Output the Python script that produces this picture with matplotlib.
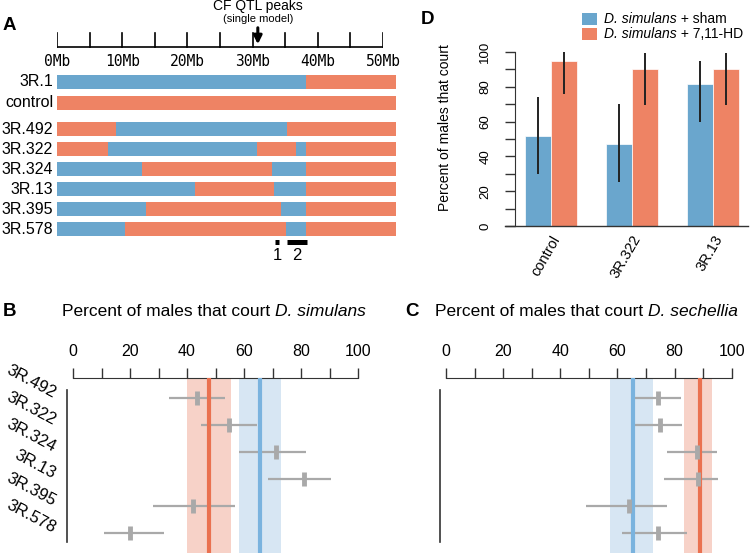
import matplotlib

matplotlib.use("Agg")
import matplotlib.pyplot as plt
import numpy as np
from matplotlib.patches import Rectangle

plt.rcParams["font.family"] = ["Liberation Sans", "DejaVu Sans"]

BLUE = "#6aa6cd"
RED = "#ee8364"
GREY = "#a9a9a9"
AXC = "#333333"

# ---- panel A: introgression lines on chromosome 3R (Mb) ----
lines_a = ["3R.1", "control", "3R.492", "3R.322", "3R.324", "3R.13", "3R.395", "3R.578"]
breaks_a = [
    [38.2],
    [],
    [9.0, 35.3],
    [7.8, 30.6, 36.6, 38.2],
    [13.1, 33.0, 38.2],
    [21.1, 33.3, 38.2],
    [13.7, 34.3, 38.2],
    [10.4, 35.1, 38.2],
]
starts_blue = [True, False, False, False, True, True, True, True]
chrom_end = 52.0
qtl_peak = 30.8
qtl_names = ["1", "2"]
qtl_regions = [(33.4, 34.1), (35.3, 38.3)]

# ---- panel B / C: percent of males that court ----
rows_bc = ["3R.492", "3R.322", "3R.324", "3R.13", "3R.395", "3R.578"]
b_mean = [43.4, 54.9, 71.2, 81.1, 42.0, 20.0]
b_lo = [33.8, 44.9, 58.4, 68.3, 28.0, 10.9]
b_hi = [53.3, 64.4, 81.8, 90.4, 57.0, 31.9]
b_red = (47.7, 40.1, 55.5)
b_blue = (65.7, 58.2, 73.0)

c_mean = [74.3, 74.9, 88.0, 88.1, 64.2, 74.3]
c_lo = [65.8, 65.8, 77.2, 76.4, 49.0, 61.7]
c_hi = [82.3, 82.7, 94.7, 95.1, 77.2, 84.2]
c_red = (88.9, 83.3, 93.0)
c_blue = (65.3, 57.4, 72.3)

# ---- panel D ----
groups_d = ["control", "3R.322", "3R.13"]
sham = [52.0, 47.3, 81.6]
sham_lo = [29.7, 25.5, 59.6]
sham_hi = [74.3, 70.3, 95.0]
hd = [95.0, 90.2, 90.2]
hd_lo = [75.7, 69.5, 69.5]
hd_hi = [100.0, 99.2, 99.2]

W, H = 750, 553
fig = plt.figure(figsize=(W / 100, H / 100), dpi=100)
renderer = fig.canvas.get_renderer()


def box(x0, y0, x1, y1):
    return [x0 / W, 1 - y1 / H, (x1 - x0) / W, (y1 - y0) / H]


def ftext(x, y, s, **kw):
    return fig.text(x / W, 1 - y / H, s, **kw)


def rich(x, y, parts, **kw):
    # parts: list of (text, style); laid out left to right
    for s, style in parts:
        t = ftext(x, y, s, style=style, va="center", ha="left", **kw)
        x += t.get_window_extent(renderer).width


# panel A
axA = fig.add_axes(box(57, 0, 383, 262))
axA.set_xlim(0, 50)
axA.set_ylim(262, 0)
axA.axis("off")
axA.plot([0, 50], [47, 47], color="k", lw=1.2)
for m in np.arange(0, 51, 5):
    axA.plot([m, m], [33, 47], color="k", lw=1.2)
for m in range(0, 51, 10):
    axA.text(m, 62, f"{m}Mb", ha="center", va="center", fontsize=10.5, family="DejaVu Sans Mono")
axA.annotate("", xy=(qtl_peak, 47), xytext=(qtl_peak, 25),
             arrowprops=dict(arrowstyle="-|>", color="k", lw=2.2, mutation_scale=12))
axA.text(qtl_peak, 6, "CF QTL peaks", ha="center", va="center", fontsize=10)
axA.text(qtl_peak, 18.5, "(single model)", ha="center", va="center", fontsize=8)

row_y = np.array([82, 102.5] + [129 + 20 * k for k in range(6)])
for name, br, sb, y in zip(lines_a, breaks_a, starts_blue, row_y):
    edges = [0] + br + [chrom_end]
    blue = sb
    for e0, e1 in zip(edges[:-1], edges[1:]):
        axA.barh(y, e1 - e0, left=e0, height=14, color=BLUE if blue else RED,
                 linewidth=0, clip_on=False)
        blue = not blue
    axA.text(-0.6, y, name, ha="right", va="center", fontsize=11.5)
for nm, (a, b) in zip(qtl_names, qtl_regions):
    axA.plot([a, b], [241.5, 241.5], color="k", lw=3.6, solid_capstyle="butt", clip_on=False)
    axA.text((a + b) / 2, 256, nm, ha="center", va="center", fontsize=12)


# panels B and C
def court_panel(rect, mean, lo, hi, red, blue, vline_x, labels):
    ax = fig.add_axes(rect)
    ax.set_xlim(0, 100)
    ax.set_ylim(5.74, -0.74)
    for s in ["left", "right", "bottom"]:
        ax.spines[s].set_visible(False)
    ax.spines["top"].set_color(AXC)
    ax.xaxis.tick_top()
    ax.set_xticks(np.arange(0, 101, 10))
    ax.set_xticklabels([str(v) if v % 20 == 0 else "" for v in range(0, 101, 10)])
    ax.tick_params(axis="x", direction="out", length=7, width=1, color=AXC,
                   labelsize=11.5, pad=7)
    ax.set_yticks([])
    for (m, l, h), bc, lc in [(red, "#f7d2c8", "#ea7150"), (blue, "#d7e6f3", "#7ab3de")]:
        ax.axvspan(l, h, color=bc, lw=0, zorder=0)
        ax.axvline(m, color=lc, lw=3, zorder=3)
    y = np.arange(len(mean))
    ax.hlines(y, lo, hi, color=GREY, lw=1.6, zorder=2)
    ax.plot(mean, y, ls="none", marker="|", ms=10, mew=3.5, color=GREY, zorder=4)
    ax.plot([vline_x, vline_x], [-0.3, 5.33], color=AXC, lw=1.2, clip_on=False)
    if labels:
        for i, lab in enumerate(labels):
            ax.text(-6.5, i - 0.15, lab, ha="right", va="center", rotation=-28,
                    rotation_mode="anchor", fontsize=12, clip_on=False)
    return ax


court_panel(box(73, 378, 358, 553), b_mean, b_lo, b_hi, b_red, b_blue, -2.1, rows_bc)
court_panel(box(446, 378, 731.7, 553), c_mean, c_lo, c_hi, c_red, c_blue, -2.1, None)

rich(62, 312, [("Percent of males that court ", "normal"), ("D. simulans", "italic")], fontsize=12.5)
rich(435, 312, [("Percent of males that court ", "normal"), ("D. sechellia", "italic")], fontsize=12.5)

# panel D
axD = fig.add_axes(box(515, 52, 748, 226))
x = np.arange(len(groups_d))
off, bw = 13 / 81, 26 / 81
axD.bar(x - off, sham, width=bw, color=BLUE, edgecolor="white", linewidth=0.5)
axD.bar(x + off, hd, width=bw, color=RED, edgecolor="white", linewidth=0.5)
axD.vlines(x - off, sham_lo, sham_hi, color="#222222", lw=1.4)
axD.vlines(x + off, hd_lo, hd_hi, color="#222222", lw=1.4)
axD.set_xlim(-0.444, 2.432)
axD.set_ylim(0, 100)
for s in ["top", "right", "bottom"]:
    axD.spines[s].set_visible(False)
axD.spines["left"].set_color(AXC)
axD.plot([-0.57, 2.432], [0, 0], color=AXC, lw=1, clip_on=False)
axD.set_yticks(np.arange(0, 101, 10))
axD.set_yticklabels([str(v) if v % 20 == 0 else "" for v in range(0, 101, 10)], rotation=90, va="center")
axD.tick_params(axis="y", length=7, width=1, color=AXC, labelsize=9.5, pad=10)
axD.set_xticks(x)
axD.set_xticklabels(groups_d, rotation=60, ha="right", va="top", rotation_mode="anchor")
axD.tick_params(axis="x", length=0, labelsize=10.5, pad=5)
ftext(445, 128, "Percent of males that court", rotation=90, ha="center", va="center", fontsize=10)

for yc, col, tail in [(19, BLUE, " + sham"), (34, RED, " + 7,11-HD")]:
    fig.add_artist(Rectangle((582 / W, 1 - (yc + 6) / H), 15 / W, 12 / H,
                             transform=fig.transFigure, color=col, lw=0))
    rich(604, yc, [("D. simulans", "italic"), (tail, "normal")], fontsize=10)

# panel letters
for lt, px, py in [("A", 9, 25), ("B", 9, 312), ("C", 412, 312), ("D", 427, 20)]:
    ftext(px, py, lt, fontsize=13.5, fontweight="bold", ha="center", va="center")

fig.savefig("out.png", dpi=100)
